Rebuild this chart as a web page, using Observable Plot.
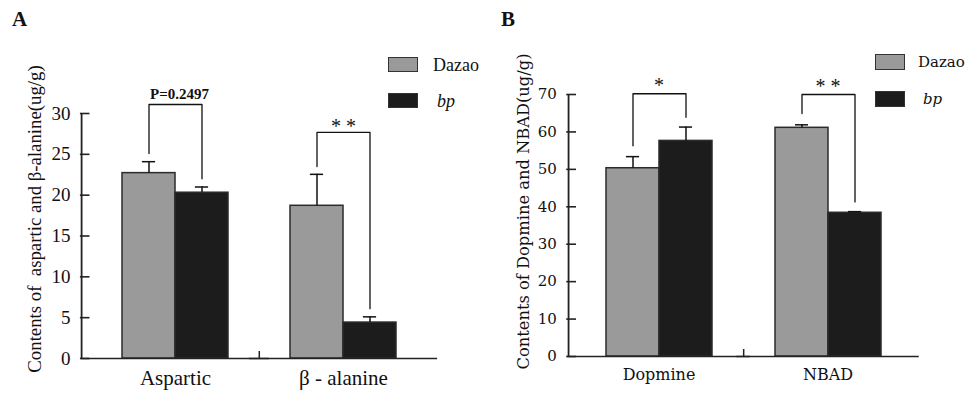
<!DOCTYPE html>
<html><head><meta charset="utf-8">
<script src="https://cdn.jsdelivr.net/npm/d3@7"></script>
<script src="https://cdn.jsdelivr.net/npm/@observablehq/plot@0.6"></script>
<style>
body{margin:0;background:#fff;}
#root{position:relative;width:970px;height:393px;overflow:hidden;background:#fff;}
.panel{position:absolute;top:0;}
.plabel{position:absolute;font-family:"Liberation Serif",serif;font-weight:bold;font-size:21px;line-height:1;color:#111;}
.sw{position:absolute;width:30px;box-sizing:border-box;border:1.5px solid #333;}
.lt{position:absolute;line-height:1;color:#111;white-space:nowrap;}
</style></head><body><div id="root"></div>
<script>
// ---------- data ----------
const series = ["Dazao", "bp"];
const seriesColors = ["#9a9a9a", "#1c1c1c"];

// Panel A
const catsA = ["Aspartic", "β - alanine"];
const dazaoA = [22.7, 18.7];
const bpA = [20.3, 4.4];
const dazaoErrA = [1.4, 3.85];
const bpErrA = [0.7, 0.7];
const ticksA = [0, 5, 10, 15, 20, 25, 30];
const bracketTopA = [31.1, 27.7];
const bracketLeftA = [25.1, 23.5];
const bracketRightA = [22.0, 6.1];
const sigA = ["P=0.2497", "* *"];
const titleA = "Contents of  aspartic and β-alanine(ug/g)";

// Panel B
const catsB = ["Dopmine", "NBAD"];
const dazaoB = [50.3, 61.1];
const bpB = [57.6, 38.4];
const dazaoErrB = [3.1, 0.8];
const bpErrB = [3.7, 0.3];
const ticksB = [0, 10, 20, 30, 40, 50, 60, 70];
const bracketTopB = [70.2, 70.0];
const bracketLeftB = [56.3, 64.9];
const bracketRightB = [63.9, 41.3];
const sigB = ["*", "* *"];
const titleB = "Contents of Dopmine and NBAD(ug/g)";

// ---------- builder ----------
function makePanel(cfg) {
  const {cats, dazao, bp, dazaoErr, bpErr, ticks, bTop, bLeft, bRight, sig, title,
         width, height, mL, mR, mT, mB, font, tickFont, catFont, titleFont, titleOffset, titleDy,
         sigFonts, sigWeights, sigDy, sigDx, fxPad, xPad} = cfg;
  const rows = cats.flatMap((c, i) => [
    {cat: c, s: series[0], v: dazao[i], e: dazaoErr[i]},
    {cat: c, s: series[1], v: bp[i], e: bpErr[i]}
  ]);
  const brackets = cats.flatMap((c, i) => [
    {cat: c, s: series[0], y: bLeft[i], id: i},
    {cat: c, s: series[0], y: bTop[i], id: i},
    {cat: c, s: series[1], y: bTop[i], id: i},
    {cat: c, s: series[1], y: bRight[i], id: i}
  ]);
  const sigRows = cats.map((c, i) => ({cat: c, y: bTop[i], label: sig[i]}));
  const frameW = width - mL - mR;
  const fxStep = frameW / (cats.length + 2 * fxPad);
  const ext = fxStep * fxPad;                        // facet edge -> frame edge
  const step = fxStep / (series.length + 2 * xPad);
  const toFacetEdge = step * (xPad + 0.5);           // bar centre -> facet edge
  const plotH = height - mT - mB;
  const yMax = ticks[ticks.length - 1];
  const first = () => cats[0];

  const marks = [
    Plot.barY(rows, {fx: "cat", x: "s", y: "v", fill: "s", stroke: "#2b2b2b", strokeWidth: 1.5}),
    Plot.ruleX(rows, {fx: "cat", x: "s", y1: "v", y2: d => d.v + d.e, stroke: "#111", strokeWidth: 1.5}),
    Plot.tickY(rows, {fx: "cat", x: "s", y: d => d.v + d.e, stroke: "#111", strokeWidth: 1.5, insetLeft: step / 2 - 7, insetRight: step / 2 - 7}),
    Plot.line(brackets, {fx: "cat", x: "s", y: "y", z: "id", stroke: "#111", strokeWidth: 1.3}),
    // x axis line across the whole frame
    Plot.ruleY([0], {insetLeft: -ext, insetRight: -ext, stroke: "#222", strokeWidth: 1.6}),
    // y axis line at the frame's left edge
    Plot.ruleX([cats[0]], {fx: d => d, x: () => series[0], y1: 0, y2: yMax, dx: -(toFacetEdge + ext), stroke: "#222", strokeWidth: 1.8}),
    // separator tick between the categories
    Plot.ruleX([cats[0]], {fx: d => d, x: () => series[series.length - 1], dx: toFacetEdge, insetTop: plotH - 7, stroke: "#222", strokeWidth: 1.5}),
    // inward y ticks and labels
    Plot.ruleY(ticks, {fx: first, y: d => d, insetLeft: -ext - 1, insetRight: fxStep + ext - 9, stroke: "#222", strokeWidth: 1.6}),
    Plot.text(ticks, {fx: first, y: d => d, text: d => String(d), frameAnchor: "left", textAnchor: "end", dx: -11 - ext, fontSize: tickFont, fill: "#111"}),
    Plot.axisFx({anchor: "bottom", label: null, tickSize: 0, tickPadding: 12, fontSize: catFont, fill: "#111"}),
    Plot.text([title], {facet: "super", frameAnchor: "left", textAnchor: "middle", rotate: -90, dx: -titleOffset - ext, dy: titleDy, fontSize: titleFont, fill: "#111"})
  ];
  sigRows.forEach((r, i) => {
    marks.push(Plot.text([r], {fx: "cat", y: "y", text: "label", lineAnchor: "bottom", frameAnchor: "middle",
      fontSize: sigFonts[i], fontWeight: sigWeights[i], dx: sigDx[i], dy: sigDy[i], fill: "#111", fontFamily: "Liberation Serif"}));
  });

  return Plot.plot({
    width, height,
    marginLeft: mL, marginRight: mR, marginTop: mT, marginBottom: mB,
    style: {fontFamily: font, color: "#111", background: "transparent", overflow: "visible"},
    fx: {domain: cats, paddingInner: 0, paddingOuter: fxPad, label: null},
    x: {domain: series, paddingInner: 0, paddingOuter: xPad, axis: null},
    y: {domain: [0, yMax], axis: null},
    color: {domain: series, range: seriesColors},
    marks
  });
}

const root = document.getElementById("root");

const plotA = makePanel({
  cats: catsA, dazao: dazaoA, bp: bpA, dazaoErr: dazaoErrA, bpErr: bpErrA, ticks: ticksA,
  bTop: bracketTopA, bLeft: bracketLeftA, bRight: bracketRightA, sig: sigA, title: titleA,
  width: 485, height: 393, mL: 80, mR: 48, mT: 113, mB: 35, fxPad: 0.06, xPad: 0.565,
  font: "Liberation Serif", tickFont: 19, catFont: 21, titleFont: 18.8, titleOffset: 46, titleDy: -17,
  sigFonts: [15, 20], sigWeights: ["bold", "normal"], sigDy: [-6, 1], sigDx: [4, 0]
});
plotA.classList.add("panel");
plotA.style.left = "0px";
root.appendChild(plotA);

const plotB = makePanel({
  cats: catsB, dazao: dazaoB, bp: bpB, dazaoErr: dazaoErrB, bpErr: bpErrB, ticks: ticksB,
  bTop: bracketTopB, bLeft: bracketLeftB, bRight: bracketRightB, sig: sigB, title: titleB,
  width: 485, height: 393, mL: 82, mR: 51, mT: 94, mB: 37, fxPad: 0.04, xPad: 0.57,
  font: "DejaVu Serif", tickFont: 15, catFont: 16, titleFont: 16.3, titleOffset: 44, titleDy: -14,
  sigFonts: [20, 20], sigWeights: ["normal", "normal"], sigDy: [-2, -2], sigDx: [0, 0]
});
plotB.classList.add("panel");
plotB.style.left = "485px";
root.appendChild(plotB);

// ---------- panel letters & legends ----------
function addDiv(cls, text, style) {
  const d = document.createElement("div");
  d.className = cls;
  if (text != null) d.textContent = text;
  Object.assign(d.style, style);
  root.appendChild(d);
  return d;
}
addDiv("plabel", "A", {left: "12px", top: "9px"});
addDiv("plabel", "B", {left: "501px", top: "9px"});

const legendA = {x: 388, ys: [57, 93], h: 15, tx: [433, 437], font: "Liberation Serif", size: 18};
const legendB = {x: 875, ys: [54, 91], h: 16, tx: [918, 923], font: "DejaVu Serif", size: 15};
[legendA, legendB].forEach(L => {
  series.forEach((s, i) => {
    addDiv("sw", null, {left: L.x + "px", top: L.ys[i] + "px", height: L.h + "px", background: seriesColors[i]});
    addDiv("lt", s, {left: L.tx[i] + "px", top: (L.ys[i] + L.h / 2 - L.size / 2) + "px",
      fontFamily: L.font, fontSize: L.size + "px", fontStyle: i === 1 ? "italic" : "normal"});
  });
});
</script></body></html>
